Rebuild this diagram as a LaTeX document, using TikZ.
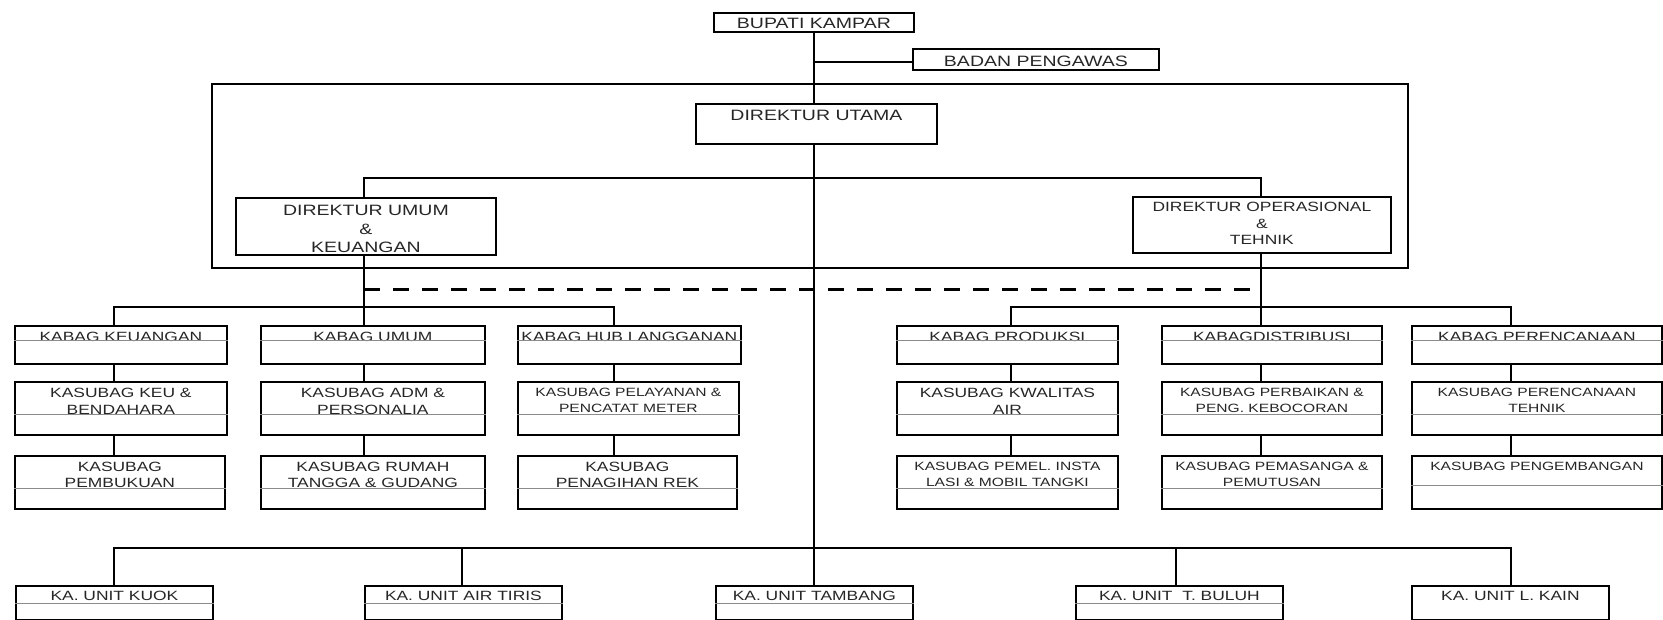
\documentclass[tikz,border=0pt]{standalone}
\usepackage{fontspec}
\newfontfamily\orgfont[FakeStretch=1.3]{Liberation Sans}
\usetikzlibrary{positioning}

\tikzset{
    box/.style={draw, line width=1.8pt, inner sep=0pt, anchor=north west},
    txt/.style={inner sep=0pt, align=center, text=black!85,
        font=\orgfont\fontsize{13.4}{16.5}\selectfont},
    bigtxt/.style={txt, font=\orgfont\fontsize{15}{18.5}\selectfont},
    smalltxt/.style={txt, font=\orgfont\fontsize{12}{16}\selectfont},
    link/.style={line width=1.8pt},
    sep/.style={draw=black!45, line width=1pt}
}

\begin{document}
\begin{tikzpicture}[x=1pt,y=-1pt]
    \useasboundingbox (0,0) rectangle (1663,620);
    \draw[link] (212,84) rectangle (1408,268);

    \node[box, minimum width=200pt, minimum height=19pt] (bupati) at (713,12) {};
    \node[bigtxt, below=6pt of bupati.north] (tbupati) {BUPATI KAMPAR};
    \node[box, minimum width=246pt, minimum height=21pt] (badan) at (912,48) {};
    \node[bigtxt, below=8pt of badan.north] (tbadan) {BADAN PENGAWAS};
    \node[box, minimum width=241pt, minimum height=40pt] (dirut) at (695,103) {};
    \node[bigtxt, below=7pt of dirut.north] (tdirut) {DIREKTUR UTAMA};
    \node[box, minimum width=260pt, minimum height=57pt] (dumum) at (235,197) {};
    \node[bigtxt, below=8pt of dumum.north] (tdumum) {DIREKTUR UMUM\\\&\\KEUANGAN};
    \node[box, minimum width=258pt, minimum height=56pt] (dop) at (1132,196) {};
    \node[txt, below=6pt of dop.north] (tdop) {DIREKTUR OPERASIONAL\\\&\\TEHNIK};

    \node[box, minimum width=212pt, minimum height=38pt] (kkeu) at (14,325) {};
    \node[txt, below=7pt of kkeu.north] (tkkeu) {KABAG KEUANGAN};
    \node[box, minimum width=224pt, minimum height=38pt] (kumum) at (260,325) {};
    \node[txt, below=7pt of kumum.north] (tkumum) {KABAG UMUM};
    \node[box, minimum width=223pt, minimum height=38pt] (khub) at (517,325) {};
    \node[txt, below=7pt of khub.north] (tkhub) {KABAG HUB LANGGANAN};
    \node[box, minimum width=221pt, minimum height=38pt] (kprod) at (896,325) {};
    \node[txt, below=7pt of kprod.north] (tkprod) {KABAG PRODUKSI};
    \node[box, minimum width=220pt, minimum height=38pt] (kdist) at (1161,325) {};
    \node[txt, below=7pt of kdist.north] (tkdist) {KABAGDISTRIBUSI};
    \node[box, minimum width=250pt, minimum height=38pt] (kplan) at (1411,325) {};
    \node[txt, below=7pt of kplan.north] (tkplan) {KABAG PERENCANAAN};

    \node[box, minimum width=212pt, minimum height=53pt] (skeu) at (14,381) {};
    \node[txt, below=7pt of skeu.north] (tskeu) {KASUBAG KEU \&\\BENDAHARA};
    \node[box, minimum width=224pt, minimum height=53pt] (sadm) at (260,381) {};
    \node[txt, below=7pt of sadm.north] (tsadm) {KASUBAG ADM \&\\PERSONALIA};
    \node[box, minimum width=221pt, minimum height=53pt] (slayan) at (517,381) {};
    \node[smalltxt, below=7pt of slayan.north] (tslayan) {KASUBAG PELAYANAN \&\\PENCATAT METER};
    \node[box, minimum width=221pt, minimum height=53pt] (skual) at (896,381) {};
    \node[txt, below=7pt of skual.north] (tskual) {KASUBAG KWALITAS\\AIR};
    \node[box, minimum width=220pt, minimum height=53pt] (sbaik) at (1161,381) {};
    \node[smalltxt, below=7pt of sbaik.north] (tsbaik) {KASUBAG PERBAIKAN \&\\PENG. KEBOCORAN};
    \node[box, minimum width=250pt, minimum height=53pt] (srenc) at (1411,381) {};
    \node[smalltxt, below=7pt of srenc.north] (tsrenc) {KASUBAG PERENCANAAN\\TEHNIK};

    \node[box, minimum width=210pt, minimum height=53pt] (sbuku) at (14,455) {};
    \node[txt, below=6.5pt of sbuku.north] (tsbuku) {KASUBAG\\PEMBUKUAN};
    \node[box, minimum width=224pt, minimum height=53pt] (srumah) at (260,455) {};
    \node[txt, below=6.5pt of srumah.north] (tsrumah) {KASUBAG RUMAH\\TANGGA \& GUDANG};
    \node[box, minimum width=219pt, minimum height=53pt] (stagih) at (517,455) {};
    \node[txt, below=6.5pt of stagih.north] (tstagih) {KASUBAG\\PENAGIHAN REK};
    \node[box, minimum width=221pt, minimum height=53pt] (spemel) at (896,455) {};
    \node[smalltxt, below=6.5pt of spemel.north] (tspemel) {KASUBAG PEMEL. INSTA\\LASI \& MOBIL TANGKI};
    \node[box, minimum width=220pt, minimum height=53pt] (spasang) at (1161,455) {};
    \node[smalltxt, below=6.5pt of spasang.north] (tspasang) {KASUBAG PEMASANGA \&\\PEMUTUSAN};
    \node[box, minimum width=250pt, minimum height=53pt] (skembang) at (1411,455) {};
    \node[smalltxt, below=6.5pt of skembang.north] (tskembang) {KASUBAG PENGEMBANGAN};

    \node[box, minimum width=197pt, minimum height=34pt] (kuok) at (15,585) {};
    \node[txt, below=6pt of kuok.north] (tkuok) {KA. UNIT KUOK};
    \node[box, minimum width=197pt, minimum height=34pt] (tiris) at (364,585) {};
    \node[txt, below=6pt of tiris.north] (ttiris) {KA. UNIT AIR TIRIS};
    \node[box, minimum width=197pt, minimum height=34pt] (tambang) at (715,585) {};
    \node[txt, below=6pt of tambang.north] (ttambang) {KA. UNIT TAMBANG};
    \node[box, minimum width=207pt, minimum height=34pt] (buluh) at (1075,585) {};
    \node[txt, below=6pt of buluh.north] (tbuluh) {KA. UNIT~~T. BULUH};
    \node[box, minimum width=197pt, minimum height=34pt] (lkain) at (1411,585) {};
    \node[txt, below=6pt of lkain.north] (tlkain) {KA. UNIT L. KAIN};

    \draw[sep] (kkeu.west |- 0,341) -- (kkeu.east |- 0,341);
    \draw[sep] (kumum.west |- 0,341) -- (kumum.east |- 0,341);
    \draw[sep] (khub.west |- 0,341) -- (khub.east |- 0,341);
    \draw[sep] (kprod.west |- 0,341) -- (kprod.east |- 0,341);
    \draw[sep] (kdist.west |- 0,341) -- (kdist.east |- 0,341);
    \draw[sep] (kplan.west |- 0,341) -- (kplan.east |- 0,341);
    \draw[sep] (skeu.west |- 0,414) -- (skeu.east |- 0,414);
    \draw[sep] (sadm.west |- 0,414) -- (sadm.east |- 0,414);
    \draw[sep] (slayan.west |- 0,414) -- (slayan.east |- 0,414);
    \draw[sep] (skual.west |- 0,414) -- (skual.east |- 0,414);
    \draw[sep] (sbaik.west |- 0,414) -- (sbaik.east |- 0,414);
    \draw[sep] (srenc.west |- 0,414) -- (srenc.east |- 0,414);
    \draw[sep] (sbuku.west |- 0,488) -- (sbuku.east |- 0,488);
    \draw[sep] (srumah.west |- 0,488) -- (srumah.east |- 0,488);
    \draw[sep] (stagih.west |- 0,488) -- (stagih.east |- 0,488);
    \draw[sep] (spemel.west |- 0,488) -- (spemel.east |- 0,488);
    \draw[sep] (spasang.west |- 0,488) -- (spasang.east |- 0,488);
    \draw[sep] (skembang.west |- 0,485) -- (skembang.east |- 0,485);
    \draw[sep] (kuok.west |- 0,603) -- (kuok.east |- 0,603);
    \draw[sep] (tiris.west |- 0,603) -- (tiris.east |- 0,603);
    \draw[sep] (tambang.west |- 0,603) -- (tambang.east |- 0,603);
    \draw[sep] (buluh.west |- 0,603) -- (buluh.east |- 0,603);

    \coordinate (hl) at (364,178);
    \coordinate (hr) at (1261,178);
    \coordinate (ga) at (114,307);
    \coordinate (gb) at (614,307);
    \coordinate (gc) at (1011,307);
    \coordinate (gd) at (1511,307);
    \coordinate (ua) at (114,548);
    \coordinate (ub) at (1511,548);
    \coordinate (uc) at (462,548);
    \coordinate (ud) at (1176,548);

    \draw[link] (bupati.south) -- (bupati.south |- dirut.north);
    \draw[link] (bupati.south |- dirut.south) -- (bupati.south |- tambang.north);
    \draw[link] (bupati.south |- 0,62) -- (badan.west |- 0,62);
    \draw[link] (hl |- dumum.north) -- (hl) -- (hr) -- (hr |- dop.north);
    \draw[link] (hl |- dumum.south) -- (hl |- kumum.north);
    \draw[link] (hr |- dop.south) -- (hr |- kdist.north);
    \draw[line width=3pt, dash pattern=on 16pt off 13pt] (hl |- 0,290) -- (hr |- 0,290);
    \draw[link] (ga |- kkeu.north) -- (ga) -- (gb) -- (gb |- khub.north);
    \draw[link] (gc |- kprod.north) -- (gc) -- (gd) -- (gd |- kplan.north);

    \draw[link] (ga |- kkeu.south) -- (ga |- skeu.north) (ga |- skeu.south) -- (ga |- sbuku.north);
    \draw[link] (hl |- kumum.south) -- (hl |- sadm.north) (hl |- sadm.south) -- (hl |- srumah.north);
    \draw[link] (gb |- khub.south) -- (gb |- slayan.north) (gb |- slayan.south) -- (gb |- stagih.north);
    \draw[link] (gc |- kprod.south) -- (gc |- skual.north) (gc |- skual.south) -- (gc |- spemel.north);
    \draw[link] (hr |- kdist.south) -- (hr |- sbaik.north) (hr |- sbaik.south) -- (hr |- spasang.north);
    \draw[link] (gd |- kplan.south) -- (gd |- srenc.north) (gd |- srenc.south) -- (gd |- skembang.north);

    \draw[link] (ua |- kuok.north) -- (ua) -- (ub) -- (ub |- lkain.north);
    \draw[link] (uc) -- (uc |- tiris.north);
    \draw[link] (ud) -- (ud |- buluh.north);
\end{tikzpicture}
\end{document}
